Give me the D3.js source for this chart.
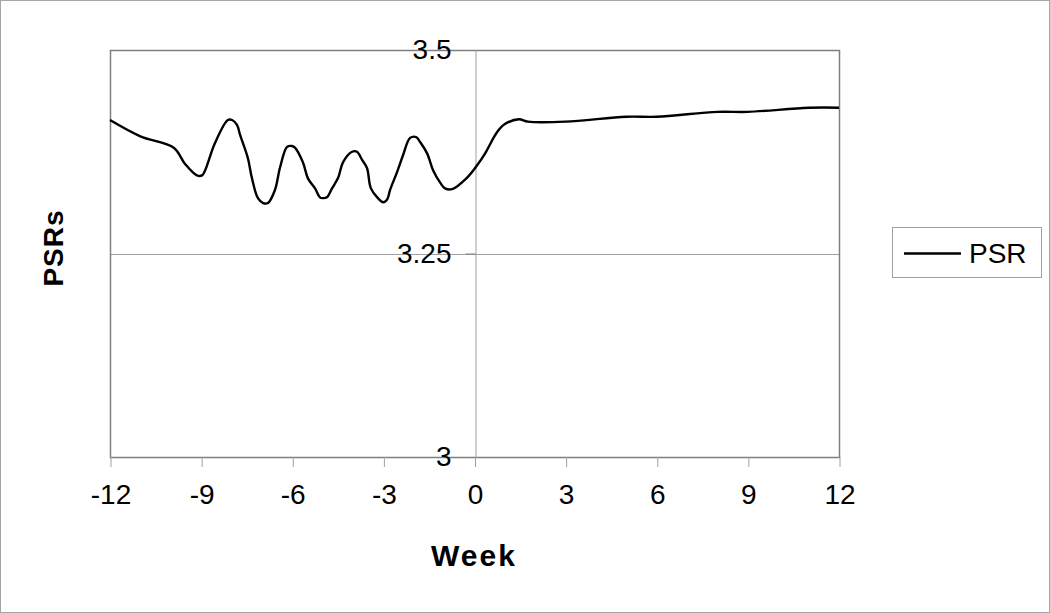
<!DOCTYPE html>
<html>
<head>
<meta charset="utf-8">
<script src="https://cdn.jsdelivr.net/npm/d3@7"></script>
<style>
  body { margin: 0; background: #fff; }
  text { font-family: "Liberation Sans", Arial, sans-serif; fill: #000; }
</style>
</head>
<body>
<svg id="chart" width="1050" height="613"></svg>
<script>
// weeks relative to event, and PSR values
const weeks = [-12, -11, -9.9, -9.53, -9.14, -8.97, -8.87, -8.54, -8.12, -7.98, -7.82, -7.72,
  -7.46, -7.33, -7.13, -6.96, -6.8, -6.57, -6.4, -6.17, -6.01, -5.91, -5.65, -5.48, -5.25,
  -5.09, -4.99, -4.86, -4.69, -4.49, -4.33, -4.03, -3.87, -3.7, -3.54, -3.41, -3.18, -3.01,
  -2.88, -2.78, -2.55, -2.35, -2.12, -1.92, -1.79, -1.56, -1.36, -1.13, -0.97, -0.74, -0.25,
  0.08, 0.35, 0.74, 1.0, 1.46, 1.76, 3, 5, 6, 8, 9, 11, 12];
const psr = [3.414, 3.394, 3.380, 3.360, 3.346, 3.346, 3.352, 3.386, 3.414, 3.414, 3.408, 3.396,
  3.367, 3.343, 3.318, 3.312, 3.312, 3.328, 3.356, 3.381, 3.382, 3.380, 3.362, 3.342, 3.330,
  3.319, 3.318, 3.319, 3.330, 3.343, 3.362, 3.375, 3.375, 3.365, 3.355, 3.330, 3.318, 3.313,
  3.316, 3.328, 3.350, 3.371, 3.392, 3.393, 3.387, 3.373, 3.352, 3.337, 3.330, 3.329, 3.343,
  3.358, 3.373, 3.399, 3.409, 3.415, 3.412, 3.412, 3.418, 3.418, 3.424, 3.424, 3.429, 3.429];
const xTicks = [-12, -9, -6, -3, 0, 3, 6, 9, 12];
const yTicks = [3, 3.25, 3.5];
const seriesName = "PSR";

const svg = d3.select("#chart");
const W = 1050, H = 613;
const plot = {left: 110, right: 839, top: 50, bottom: 457};

// outer frame
svg.append("rect").attr("x", 0.5).attr("y", 0.5).attr("width", W - 1).attr("height", H - 1)
  .attr("fill", "#fff").attr("stroke", "#a6a6a6").attr("stroke-width", 1);

const x = d3.scaleLinear().domain([-12, 12]).range([plot.left, plot.right]);
const y = d3.scaleLinear().domain([3, 3.5]).range([plot.bottom, plot.top]);

// horizontal gridline at 3.25
svg.append("g").selectAll("line").data(yTicks.filter(d => d > 3 && d < 3.5)).join("line")
  .attr("x1", plot.left).attr("x2", plot.right)
  .attr("y1", d => Math.round(y(d)) + 0.5).attr("y2", d => Math.round(y(d)) + 0.5)
  .attr("stroke", "#a0a0a0").attr("stroke-width", 1);

// plot area border
svg.append("rect")
  .attr("x", plot.left + 0.5).attr("y", plot.top + 0.5)
  .attr("width", plot.right - plot.left).attr("height", plot.bottom - plot.top)
  .attr("fill", "none").attr("stroke", "#7f7f7f").attr("stroke-width", 1.5);

// x axis (ticks go below the plot)
const xAxis = d3.axisBottom(x).tickValues(xTicks).tickSize(10).tickPadding(17)
  .tickFormat(d3.format("d"));
const gx = svg.append("g").attr("transform", `translate(0.5,${plot.bottom})`).call(xAxis);
gx.select(".domain").remove();
gx.selectAll(".tick line").attr("stroke", "#a0a0a0");
gx.selectAll(".tick text").style("font-size", "28px").attr("font-family", null)
  .text(d => d < 0 ? "-" + Math.abs(d) : d);

// y axis crossing at week 0
const yAxis = d3.axisLeft(y).tickValues(yTicks).tickSize(10).tickPadding(14)
  .tickFormat(d => d);
const gy = svg.append("g").attr("transform", `translate(${Math.round(x(0)) + 0.5},0)`).call(yAxis);
gy.select(".domain").attr("stroke", "#a0a0a0");
gy.selectAll(".tick line").attr("stroke", "#7f7f7f");
gy.selectAll(".tick text").style("font-size", "28px").attr("font-family", null);

// series line
const line = d3.line()
  .x((d, i) => x(weeks[i]))
  .y(d => y(d))
  .curve(d3.curveCatmullRom.alpha(0.5));
svg.append("path").datum(psr)
  .attr("d", line)
  .attr("fill", "none").attr("stroke", "#000").attr("stroke-width", 2.4)
  .attr("stroke-linejoin", "round");

// axis titles
svg.append("text").attr("x", 474).attr("y", 566).attr("text-anchor", "middle")
  .style("font-size", "30px").style("font-weight", "bold").style("letter-spacing", "2px")
  .text("Week");
svg.append("text").attr("transform", "translate(63,248) rotate(-90)")
  .attr("text-anchor", "middle")
  .style("font-size", "28px").style("font-weight", "bold").style("letter-spacing", "1px")
  .text("PSRs");

// legend
const lg = svg.append("g").attr("transform", "translate(892,227)");
lg.append("rect").attr("x", 0.5).attr("y", 0.5).attr("width", 149).attr("height", 50)
  .attr("fill", "#fff").attr("stroke", "#a0a0a0");
lg.append("line").attr("x1", 12).attr("x2", 69).attr("y1", 26.5).attr("y2", 26.5)
  .attr("stroke", "#000").attr("stroke-width", 2.4);
lg.append("text").attr("x", 77).attr("y", 36).style("font-size", "28px").text(seriesName);
</script>
</body>
</html>
